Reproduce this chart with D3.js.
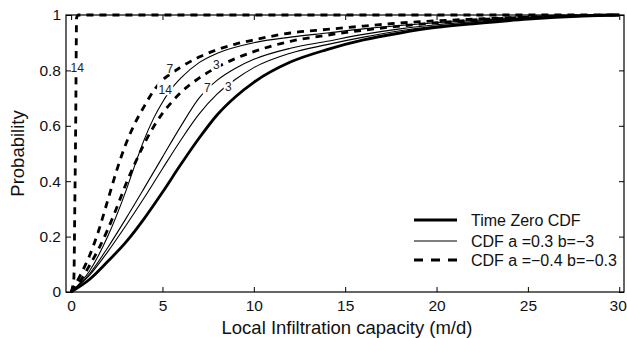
<!DOCTYPE html>
<html lang="en">
<head>
<meta charset="utf-8">
<script src="https://d3js.org/d3.v7.min.js"></script>
<style>
  body { margin: 0; background: white; }
  text { font-family: "Liberation Sans", Arial, Helvetica, sans-serif; fill: #111; }
</style>
</head>
<body>
<div id="chart"></div>
<script>
// x values (m/d) and probabilities
var timeZeroX = [0, 1, 2, 3, 4, 5, 6, 7, 8, 9, 10, 12, 14, 16, 18, 20, 22, 25, 28, 30];
var timeZeroP = [0, 0.045, 0.11, 0.18, 0.265, 0.36, 0.46, 0.555, 0.64, 0.705, 0.757, 0.83, 0.875, 0.91, 0.935, 0.955, 0.968, 0.985, 0.996, 1];

// CDF a=0.3 b=-3 (thin), days 3, 7, 14
var thin3X  = [0, 1, 2, 3, 4, 5, 6, 7, 8, 9, 10, 12, 14, 16, 18, 20, 22, 25, 28, 30];
var thin3P  = [0, 0.06, 0.145, 0.24, 0.34, 0.445, 0.548, 0.642, 0.715, 0.768, 0.81, 0.862, 0.893, 0.92, 0.943, 0.96, 0.972, 0.988, 0.997, 1];
var thin7X  = [0, 1, 2, 3, 4, 5, 6, 7, 8, 9, 10, 12, 14, 16, 18, 20, 22, 25, 28, 30];
var thin7P  = [0, 0.065, 0.16, 0.265, 0.375, 0.487, 0.598, 0.7, 0.765, 0.808, 0.84, 0.88, 0.905, 0.93, 0.95, 0.965, 0.976, 0.99, 0.998, 1];
var thin14X = [0, 1, 2, 3, 3.5, 4, 4.5, 5, 5.5, 6, 7, 8, 10, 12, 14, 16, 18, 20, 22, 25, 28, 30];
var thin14P = [0, 0.075, 0.2, 0.365, 0.46, 0.55, 0.625, 0.685, 0.735, 0.772, 0.828, 0.862, 0.9, 0.92, 0.935, 0.95, 0.962, 0.972, 0.98, 0.99, 0.998, 1];

// CDF a=-0.4 b=-0.3 (dashed), days 3, 7, 14
var dash3X  = [0, 0.5, 1, 1.5, 2, 2.5, 3, 3.5, 4, 4.5, 5, 5.5, 6, 7, 8, 9, 10, 12, 14, 16, 18, 20, 22, 25, 28, 30];
var dash3P  = [0, 0.04, 0.095, 0.155, 0.225, 0.305, 0.39, 0.465, 0.535, 0.595, 0.645, 0.685, 0.72, 0.772, 0.812, 0.843, 0.868, 0.905, 0.927, 0.945, 0.96, 0.972, 0.982, 0.992, 0.998, 1];
var dash7X  = [0, 0.5, 1, 1.5, 2, 2.5, 3, 3.5, 4, 4.5, 5, 5.5, 6, 7, 8, 9, 10, 12, 14, 16, 18, 20, 22, 25, 28, 30];
var dash7P  = [0, 0.06, 0.13, 0.22, 0.33, 0.44, 0.535, 0.61, 0.67, 0.725, 0.765, 0.79, 0.812, 0.848, 0.875, 0.895, 0.91, 0.935, 0.948, 0.96, 0.971, 0.979, 0.985, 0.993, 0.998, 1];
var dash14X = [0, 0.15, 0.2, 0.25, 0.3, 0.4, 30];
var dash14P = [0, 0.05, 0.3, 0.6, 0.99, 1, 1];

// in-line day labels (text, x, probability)
var dayLabels = ["14", "7", "14", "3", "7", "3"];
var dayLabelX = [0.33, 5.4, 5.15, 7.95, 7.45, 8.6];
var dayLabelP = [0.81, 0.808, 0.732, 0.819, 0.736, 0.74];

var xTicks = [0, 5, 10, 15, 20, 25, 30];
var yTicks = [0, 0.2, 0.4, 0.6, 0.8, 1];
var legendNames = ["Time Zero CDF", "CDF a =0.3 b=\u22123", "CDF a =\u22120.4 b=\u22120.3"];

var W = 627, H = 338;
var box = {left: 66, right: 624, top: 15, bottom: 292};

var svg = d3.select("#chart").append("svg")
    .attr("width", W)
    .attr("height", H);

var x = d3.scaleLinear().domain([-0.28, 30.26]).range([box.left, box.right]);
var y = d3.scaleLinear().domain([0, 1]).range([box.bottom, box.top]);

function zip(xs, ps) {
  return xs.map(function(v, i) { return [v, ps[i]]; });
}

var line = d3.line()
    .x(function(d) { return x(d[0]); })
    .y(function(d) { return y(d[1]); })
    .curve(d3.curveMonotoneX);

var series = [
  {pts: zip(timeZeroX, timeZeroP), w: 2.8, dash: null},
  {pts: zip(thin3X, thin3P), w: 1.1, dash: null},
  {pts: zip(thin7X, thin7P), w: 1.1, dash: null},
  {pts: zip(thin14X, thin14P), w: 1.1, dash: null},
  {pts: zip(dash3X, dash3P), w: 2.8, dash: "7,6"},
  {pts: zip(dash7X, dash7P), w: 2.8, dash: "7,6"},
  {pts: zip(dash14X, dash14P), w: 2.8, dash: "7,6"}
];

var plot = svg.append("g");
series.forEach(function(s) {
  plot.append("path")
    .datum(s.pts)
    .attr("d", line)
    .attr("fill", "none")
    .attr("stroke", "#000")
    .attr("stroke-width", s.w)
    .attr("stroke-dasharray", s.dash);
});

// labels sit on the curves and break them, like contour labels
dayLabels.forEach(function(t, i) {
  var g = plot.append("g")
    .attr("transform", "translate(" + x(dayLabelX[i]) + "," + y(dayLabelP[i]) + ")");
  g.append("rect")
    .attr("x", t.length == 2 ? -8 : -4.5)
    .attr("y", -7)
    .attr("width", t.length == 2 ? 16 : 9)
    .attr("height", 13)
    .attr("fill", "white");
  g.append("text")
    .attr("text-anchor", "middle")
    .attr("dy", "0.36em")
    .style("font-size", "12px")
    .style("fill", "#222")
    .text(t);
});

// frame
svg.append("rect")
  .attr("x", box.left).attr("y", box.top)
  .attr("width", box.right - box.left).attr("height", box.bottom - box.top)
  .attr("fill", "none").attr("stroke", "#000").attr("stroke-width", 1.2);

// axes with inward ticks
var xAxisG = svg.append("g")
  .attr("transform", "translate(0," + box.bottom + ")")
  .call(d3.axisBottom(x).tickValues(xTicks).tickSizeInner(-5).tickSizeOuter(0).tickPadding(8));
xAxisG.select(".domain").remove();
xAxisG.selectAll("text").style("font-size", "15.5px");
// last label sits against the page edge
xAxisG.selectAll("text").filter(function(d) { return d == 30; }).attr("dx", -1.5);

svg.append("g")
  .attr("transform", "translate(0," + box.top + ")")
  .call(d3.axisTop(x).tickValues(xTicks).tickSizeInner(-5).tickSizeOuter(0).tickFormat(""))
  .call(function(g) { g.select(".domain").remove(); });

svg.append("g")
  .attr("transform", "translate(" + box.left + ",0)")
  .call(d3.axisLeft(y).tickValues(yTicks).tickSizeInner(-5).tickSizeOuter(0).tickPadding(5).tickFormat(d3.format("~g")))
  .call(function(g) { g.select(".domain").remove(); })
  .selectAll("text").style("font-size", "15.5px");

svg.append("g")
  .attr("transform", "translate(" + box.right + ",0)")
  .call(d3.axisRight(y).tickValues(yTicks).tickSizeInner(-5).tickSizeOuter(0).tickFormat(""))
  .call(function(g) { g.select(".domain").remove(); });

// axis titles
svg.append("text")
  .attr("x", 347)
  .attr("y", 334)
  .attr("text-anchor", "middle")
  .style("font-size", "18.5px")
  .text("Local Infiltration capacity (m/d)");

svg.append("text")
  .attr("transform", "translate(24," + ((box.top + box.bottom) / 2) + ") rotate(-90)")
  .attr("text-anchor", "middle")
  .style("font-size", "18.5px")
  .text("Probability");

// legend
var legW = [2.8, 1.1, 2.8];
var legDash = [null, null, "9,8"];
var legY = [220, 241, 260];
legendNames.forEach(function(n, i) {
  svg.append("line")
    .attr("x1", 414).attr("x2", 457)
    .attr("y1", legY[i]).attr("y2", legY[i])
    .attr("stroke", "#000")
    .attr("stroke-width", legW[i])
    .attr("stroke-dasharray", legDash[i]);
  svg.append("text")
    .attr("x", 471)
    .attr("y", legY[i])
    .attr("dy", "0.36em")
    .style("font-size", "16px")
    .text(n);
});
</script>
</body>
</html>
